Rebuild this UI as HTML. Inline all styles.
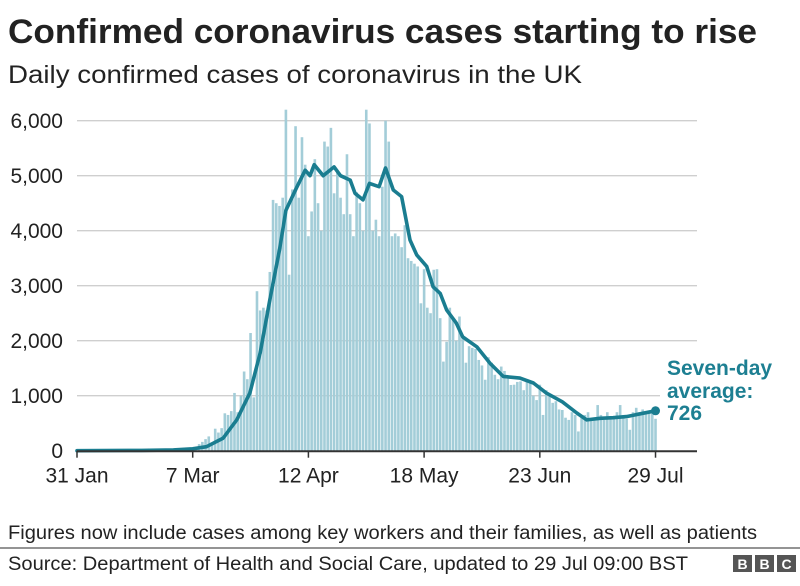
<!DOCTYPE html>
<html><head><meta charset="utf-8"><style>
html,body{margin:0;padding:0;background:#fff;}
body{width:800px;height:581px;overflow:hidden;position:relative;font-family:"Liberation Sans",Arial,sans-serif;}
</style></head><body>
<svg id="chart" width="800" height="581" xmlns="http://www.w3.org/2000/svg" font-family="Liberation Sans, Arial, sans-serif">
<text x="8" y="43" font-size="34" font-weight="bold" fill="#222" textLength="749" lengthAdjust="spacingAndGlyphs">Confirmed coronavirus cases starting to rise</text>
<text x="8" y="83" font-size="25" fill="#222" textLength="574" lengthAdjust="spacingAndGlyphs">Daily confirmed cases of coronavirus in the UK</text>
<g id="grid"></g>
<g id="bars"></g>
<g id="line"></g>
<g id="axes"></g>
<text font-size="21" font-weight="bold" fill="#1d7f92">
<tspan x="667" y="375">Seven-day</tspan><tspan x="667" y="398">average:</tspan><tspan id="avgval" x="667" y="420">726</tspan></text>
<text x="8" y="539" font-size="19" fill="#222" textLength="749" lengthAdjust="spacingAndGlyphs">Figures now include cases among key workers and their families, as well as patients</text>
<line x1="0" y1="548" x2="800" y2="548" stroke="#555" stroke-width="1.2"/>
<text x="8" y="570" font-size="19" fill="#222" textLength="680" lengthAdjust="spacingAndGlyphs">Source: Department of Health and Social Care, updated to 29 Jul 09:00 BST</text>
<g font-size="14" font-weight="bold" fill="#fff" text-anchor="middle">
<rect x="733" y="555" width="19" height="17" fill="#555"/><text x="742.5" y="569">B</text>
<rect x="755" y="555" width="19" height="17" fill="#555"/><text x="764.5" y="569">B</text>
<rect x="777" y="555" width="19" height="17" fill="#555"/><text x="786.5" y="569">C</text>
</g>
</svg>
<script>
const dailyCases = [0,0,0,0,0,0,0,0,0,1,0,1,0,0,0,0,0,0,0,0,0,0,0,0,4,0,3,6,3,5,
12,11,35,30,48,46,50,60,120,160,
210,260,150,400,330,410,680,650,720,1050,
700,1000,1440,1300,2140,970,2900,2550,2600,2550,
3250,4560,4500,4450,4600,6200,3200,4750,5900,4600,
5700,5200,3900,4350,5300,4500,4000,5620,5530,5870,
4680,5100,4600,4300,5390,4300,3900,4700,4500,4000,
6200,5950,4000,4200,3900,4800,6000,5620,3900,3950,
3900,3700,4100,3500,3450,3400,3350,2680,3300,2600,
2500,3290,3300,2410,1620,1980,2600,2400,2000,2440,
2050,1600,1900,1870,1850,1650,1550,1290,1700,1600,
1380,1300,1530,1450,1330,1195,1200,1250,1260,1100,
1300,1250,1000,920,1200,650,1100,1000,870,900,
750,740,600,560,700,650,350,600,650,700,
550,600,830,650,560,700,600,600,700,830,
650,580,380,700,780,700,750,680,700,680,
580];
const avgDays = [0,20,30,36,40.3,45.5,49.7,53.8,57,60,63,65,68.3,71,72.5,73.8,76.6,80,82,85,86.5,89,91,94,96,98.4,101,103.6,105.7,108.8,110.8,113,115,118,120,124.4,128.5,132.6,137.8,142,146,151,155.5,158.6,162.7,166.8,171,176,180];
const avgValues = [0,5,15,35,73,230,560,1050,1780,2740,3650,4370,4780,5100,5000,5200,5000,5160,5000,4920,4680,4560,4860,4800,5140,4740,4620,3830,3560,3350,2980,2860,2560,2320,2070,1890,1590,1350,1320,1230,1050,890,685,560,590,600,620,680,726];
const yTicks = [0,1000,2000,3000,4000,5000,6000];
const yTickLabels = ["0","1,000","2,000","3,000","4,000","5,000","6,000"];
const xTickDays = [0,36,72,108,144,180];
const xTickLabels = ["31 Jan","7 Mar","12 Apr","18 May","23 Jun","29 Jul"];

const NS="http://www.w3.org/2000/svg";
const X0=77, DAYW=3.214, Y0=450.7, PER=0.055;
function xs(d){return X0+d*DAYW;}
function ys(v){return Y0-v*PER;}
function mk(tag,attrs,parent){const e=document.createElementNS(NS,tag);for(const k in attrs)e.setAttribute(k,attrs[k]);parent.appendChild(e);return e;}
const grid=document.getElementById('grid'),bars=document.getElementById('bars'),line=document.getElementById('line'),axes=document.getElementById('axes');
yTicks.forEach((v,i)=>{
  if(v>0){const g=mk('line',{x1:X0,x2:v===1000?660:697,y1:ys(v),y2:ys(v),stroke:'#cfcfcf','stroke-width':1.3},grid);
  
  }
  const t=mk('text',{x:63,y:ys(v)+7.5,'font-size':21,'text-anchor':'end',fill:'#222'},axes);
  t.textContent=yTickLabels[i];
  
  
});
dailyCases.forEach((v,d)=>{
  const r=mk('rect',{x:xs(d)-1.3,y:ys(v),width:2.6,height:Math.max(0,v*PER),fill:'#a3cdd8'},bars);
  
  
});
const pts=avgDays.map((d,i)=>xs(d).toFixed(1)+','+ys(avgValues[i]).toFixed(1)).join(' ');
const pl=mk('polyline',{points:pts,fill:'none',stroke:'#1a7d90','stroke-width':3.6,'stroke-linejoin':'round','stroke-linecap':'round'},line);


const last=avgDays.length-1;
const dot=mk('circle',{cx:xs(avgDays[last]),cy:ys(avgValues[last]),r:4.5,fill:'#1a7d90'},line);


const ax=mk('line',{x1:X0,x2:697,y1:Y0+0.5,y2:Y0+0.5,stroke:'#333','stroke-width':2},axes);


xTickDays.forEach((d,i)=>{
  const tk=mk('line',{x1:xs(d),x2:xs(d),y1:Y0,y2:Y0+7,stroke:'#333','stroke-width':1.5},axes);
  
  
  const t=mk('text',{x:xs(d),y:Y0+32,'font-size':21,'text-anchor':'middle',fill:'#222'},axes);
  t.textContent=xTickLabels[i];
  
  
});
document.getElementById('avgval').textContent=String(avgValues[last]);
</script>
</body></html>
